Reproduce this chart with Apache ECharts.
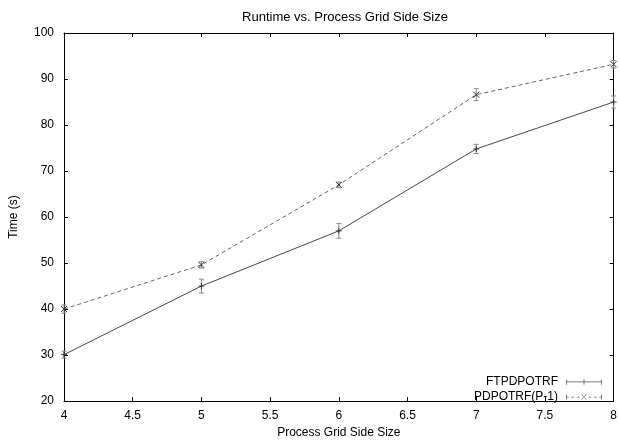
<!DOCTYPE html>
<html><head><meta charset="utf-8">
<script src="https://cdn.jsdelivr.net/npm/echarts@6/dist/echarts.min.js"></script>
<style>html,body{margin:0;padding:0;background:#fff}#c{width:620px;height:444px}</style>
</head><body><div id="c"></div>
<script>
const gridSizes = [4, 5, 6, 7, 8];
const ftpdpotrf = [30.1, 45.0, 57.0, 74.8, 85.0];
const ftpdpotrfErr = [0.75, 1.5, 1.6, 1.0, 1.3];
const pdpotrf = [40.0, 49.6, 67.0, 86.6, 93.2];
const pdpotrfErr = [0.9, 0.7, 0.6, 1.3, 0.8];
const xTicks = [4, 4.5, 5, 5.5, 6, 6.5, 7, 7.5, 8];
const yTicks = [20, 30, 40, 50, 60, 70, 80, 90, 100];

const FONT = 'Liberation Sans, Arial, Helvetica, sans-serif';
const lineCol = '#4a4a4a';
const dashCol = '#666';
const errCol = '#8a8a8a';

function rows(vals, errs) { return gridSizes.map((x, i) => [x, vals[i], errs[i]]); }

function makeRender(markerType) {
  return function (params, api) {
    const x = api.value(0), y = api.value(1), e = api.value(2);
    const p = api.coord([x, y]);
    const top = api.coord([x, y + e]);
    const bot = api.coord([x, y - e]);
    const cap = 2.5, m = 3;
    const st = { stroke: errCol, lineWidth: 1 };
    const ms = { stroke: '#333', lineWidth: 1 };
    const children = [
      { type: 'line', shape: { x1: p[0], y1: top[1], x2: p[0], y2: bot[1] }, style: st },
      { type: 'line', shape: { x1: p[0] - cap, y1: top[1], x2: p[0] + cap, y2: top[1] }, style: st },
      { type: 'line', shape: { x1: p[0] - cap, y1: bot[1], x2: p[0] + cap, y2: bot[1] }, style: st }
    ];
    if (markerType === 'plus') {
      children.push({ type: 'line', shape: { x1: p[0] - m, y1: p[1], x2: p[0] + m, y2: p[1] }, style: ms });
      children.push({ type: 'line', shape: { x1: p[0], y1: p[1] - m, x2: p[0], y2: p[1] + m }, style: ms });
    } else {
      children.push({ type: 'line', shape: { x1: p[0] - m, y1: p[1] - m, x2: p[0] + m, y2: p[1] + m }, style: ms });
      children.push({ type: 'line', shape: { x1: p[0] - m, y1: p[1] + m, x2: p[0] + m, y2: p[1] - m }, style: ms });
    }
    return { type: 'group', children };
  };
}

const iconFT = 'path://M0,4.5h40v0.8h-40Z M0,2h0.8v6h-0.8Z M39.2,2h0.8v6h-0.8Z M19.6,2h0.8v6h-0.8Z';
const iconPD = 'path://M0,4.5h3v0.8h-3Z M6,4.5h3v0.8h-3Z M12,4.5h3v0.8h-3Z M25,4.5h3v0.8h-3Z M31,4.5h3v0.8h-3Z M37,4.5h3v0.8h-3Z M0,2h0.8v6h-0.8Z M39.2,2h0.8v6h-0.8Z M17,2.2l0.6,-0.5l5.4,5.8l-0.6,0.5Z M17,7.5l5.4,-5.8l0.6,0.5l-5.4,5.8Z';

const axisCommon = {
  axisLine: { show: true, lineStyle: { color: '#000', width: 1 } },
  axisTick: { show: true, inside: true, length: 4, lineStyle: { color: '#000' } },
  splitLine: { show: false }
};

const chart = echarts.init(document.getElementById('c'), null, { renderer: 'canvas' });
chart.setOption({
  animation: false,
  backgroundColor: '#fff',
  textStyle: { fontFamily: FONT },
  title: {
    text: 'Runtime vs. Process Grid Side Size',
    left: 340, top: 6, textAlign: 'center',
    textStyle: { fontFamily: FONT, fontSize: 13, fontWeight: 'normal', color: '#000' }
  },
  grid: { left: 64, right: 5, top: 33, bottom: 40, containLabel: false },
  legend: {
    right: 13, top: 371, orient: 'vertical', align: 'right',
    itemWidth: 36, itemHeight: 8, itemGap: 3,
    textStyle: { fontFamily: FONT, fontSize: 12, color: '#000', padding: [0, 3, 0, 0] },
    data: [
      { name: 'FTPDPOTRF', icon: iconFT, itemStyle: { color: '#555' } },
      { name: 'PDPOTRF(P-1)', icon: iconPD, itemStyle: { color: '#666' } }
    ]
  },
  xAxis: [
    Object.assign({}, axisCommon, {
      type: 'value', min: 4, max: 8, interval: 0.5, position: 'bottom',
      name: 'Process Grid Side Size', nameLocation: 'middle', nameGap: 25,
      nameTextStyle: { fontFamily: FONT, fontSize: 12, color: '#000' },
      axisLabel: { color: '#000', fontSize: 12, fontFamily: FONT, margin: 9,
        formatter: v => xTicks.includes(v) ? String(v) : '' }
    }),
    Object.assign({}, axisCommon, {
      type: 'value', min: 4, max: 8, interval: 0.5, position: 'top',
      axisLabel: { show: false }
    })
  ],
  yAxis: [
    Object.assign({}, axisCommon, {
      type: 'value', min: 20, max: 100, interval: 10, position: 'left',
      name: 'Time (s)', nameLocation: 'middle', nameGap: 44, nameRotate: 90,
      nameTextStyle: { fontFamily: FONT, fontSize: 12, color: '#000' },
      axisLabel: { color: '#000', fontSize: 12, fontFamily: FONT, margin: 10,
        formatter: v => yTicks.includes(v) ? String(v) : '' }
    }),
    Object.assign({}, axisCommon, {
      type: 'value', min: 20, max: 100, interval: 10, position: 'right',
      axisLabel: { show: false }
    })
  ],
  series: [
    { name: 'FTPDPOTRF', type: 'line', symbol: 'none', data: rows(ftpdpotrf, ftpdpotrfErr).map(r => [r[0], r[1]]),
      lineStyle: { color: lineCol, width: 1 }, itemStyle: { color: lineCol }, z: 2 },
    { name: 'PDPOTRF(P-1)', type: 'line', symbol: 'none', data: rows(pdpotrf, pdpotrfErr).map(r => [r[0], r[1]]),
      lineStyle: { color: dashCol, width: 1, type: [4, 3] }, itemStyle: { color: dashCol }, z: 2 },
    { name: 'FTPDPOTRF', type: 'custom', renderItem: makeRender('plus'), data: rows(ftpdpotrf, ftpdpotrfErr),
      encode: { x: 0, y: 1 }, z: 3, clip: false },
    { name: 'PDPOTRF(P-1)', type: 'custom', renderItem: makeRender('cross'), data: rows(pdpotrf, pdpotrfErr),
      encode: { x: 0, y: 1 }, z: 3, clip: false }
  ]
});
</script></body></html>
